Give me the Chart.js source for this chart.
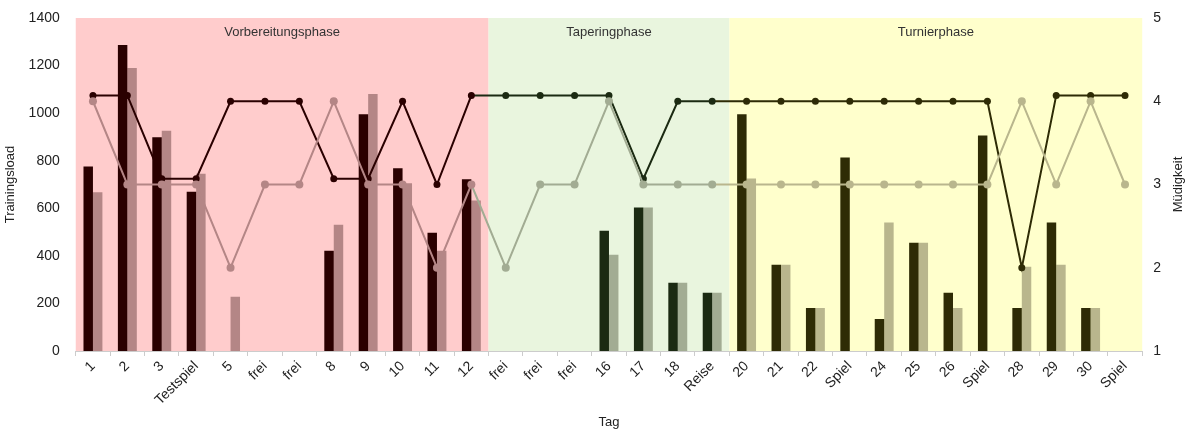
<!DOCTYPE html>
<html>
<head>
<meta charset="utf-8">
<script src="https://cdn.jsdelivr.net/npm/chart.js@4/dist/chart.umd.min.js"></script>
<style>
  body { margin: 0; background: #fff; }
  #wrap { width: 1189px; height: 434px; }
</style>
</head>
<body>
<div id="wrap"><canvas id="chart" width="1189" height="434"></canvas></div>
<script>
const categories = ['1', '2', '3', 'Testspiel', '5', 'frei', 'frei', '8', '9', '10', '11', '12',
  'frei', 'frei', 'frei', '16', '17', '18', 'Reise',
  '20', '21', '22', 'Spiel', '24', '25', '26', 'Spiel', '28', '29', '30', 'Spiel'];

const loadA = [776, 1286, 899, 670, 0, 0, 0, 422, 995, 768, 497, 722,
  0, 0, 0, 506, 603, 287, 245,
  995, 363, 181, 814, 135, 455, 245, 906, 181, 540, 181, 0];
const loadB = [667, 1190, 926, 745, 228, 0, 0, 531, 1081, 705, 422, 633,
  0, 0, 0, 405, 603, 287, 245,
  725, 363, 181, 0, 540, 455, 181, 0, 354, 363, 181, 0];

const fatigueA = [4.07, 4.07, 3.07, 3.07, 4, 4, 4, 3.07, 3.07, 4, 3, 4.07,
  4.07, 4.07, 4.07, 4.07, 3.07, 4, 4,
  4, 4, 4, 4, 4, 4, 4, 4, 2, 4.07, 4.07, 4.07];
const fatigueB = [4, 3, 3, 3, 2, 3, 3, 4, 3, 3, 2, 3,
  2, 3, 3, 4, 3, 3, 3,
  3, 3, 3, 3, 3, 3, 3, 3, 4, 3, 4, 3];

const phaseNames = ['Vorbereitungsphase', 'Taperingphase', 'Turnierphase'];
const phaseStarts = [0, 12, 19];

// colours per phase
const phaseBg = ['#ffcccc', '#e9f5de', '#ffffcc'];
const phaseDark = ['#2a0000', '#1b2a12', '#2e2b05'];
const phaseLight = ['#b48686', '#a2ac93', '#b9b68d'];

function phaseOf(i) {
  let p = 0;
  phaseStarts.forEach((s, k) => { if (i >= s) p = k; });
  return p;
}
const darkCols = categories.map((_, i) => phaseDark[phaseOf(i)]);
const lightCols = categories.map((_, i) => phaseLight[phaseOf(i)]);

const FONT = '"Liberation Sans", Arial, sans-serif';

const phasePlugin = {
  id: 'phases',
  beforeDraw(chart) {
    const { ctx, chartArea } = chart;
    const x = chart.scales.x;
    const w = x.width / categories.length;
    ctx.save();
    phaseStarts.forEach((s, k) => {
      const e = k + 1 < phaseStarts.length ? phaseStarts[k + 1] : categories.length;
      const left = x.left + s * w;
      const right = x.left + e * w;
      ctx.fillStyle = phaseBg[k];
      ctx.fillRect(left, chartArea.top, right - left, chartArea.bottom - chartArea.top);
      ctx.fillStyle = '#333';
      ctx.font = '13px ' + FONT;
      ctx.textAlign = 'center';
      ctx.textBaseline = 'middle';
      ctx.fillText(phaseNames[k], (left + right) / 2, chartArea.top + 14);
    });
    ctx.restore();
  },
  afterDraw(chart) {
    // right axis title, reads bottom to top like the left one
    const { ctx, chartArea } = chart;
    ctx.save();
    ctx.translate(chart.width - 11, (chartArea.top + chartArea.bottom) / 2);
    ctx.rotate(-Math.PI / 2);
    ctx.fillStyle = '#222';
    ctx.font = '13px ' + FONT;
    ctx.textAlign = 'center';
    ctx.textBaseline = 'middle';
    ctx.fillText('Müdigkeit', 0, 0);
    ctx.restore();
  }
};

new Chart(document.getElementById('chart'), {
  data: {
    labels: categories,
    datasets: [
      {
        type: 'line', label: 'Müdigkeit B', data: fatigueB, yAxisID: 'y2', order: 0,
        borderWidth: 2, pointRadius: 4, pointBorderWidth: 0,
        pointBackgroundColor: lightCols,
        segment: { borderColor: c => lightCols[c.p1DataIndex] }
      },
      {
        type: 'line', label: 'Müdigkeit A', data: fatigueA, yAxisID: 'y2', order: 1,
        borderWidth: 2, pointRadius: 3.5, pointBorderWidth: 0,
        pointBackgroundColor: darkCols,
        segment: { borderColor: c => darkCols[c.p1DataIndex] }
      },
      {
        type: 'bar', label: 'Load A', data: loadA, yAxisID: 'y', order: 2,
        backgroundColor: darkCols, barPercentage: 1, categoryPercentage: 0.55
      },
      {
        type: 'bar', label: 'Load B', data: loadB, yAxisID: 'y', order: 2,
        backgroundColor: lightCols, barPercentage: 1, categoryPercentage: 0.55
      }
    ]
  },
  options: {
    responsive: false,
    animation: false,
    layout: { padding: { top: 18, left: 1, right: 25, bottom: 0 } },
    plugins: { legend: { display: false }, tooltip: { enabled: false } },
    scales: {
      x: {
        offset: true,
        grid: { display: true, drawOnChartArea: false, offset: true, color: '#cccccc', tickLength: 5 },
        border: { color: '#cccccc' },
        ticks: { minRotation: 45, maxRotation: 45, autoSkip: false, color: '#222', font: { family: FONT, size: 14 }, padding: 2 },
        title: { display: true, text: 'Tag', color: '#222', font: { family: FONT, size: 13 }, padding: { top: 4 } }
      },
      y: {
        position: 'left', min: 0, max: 1400,
        ticks: { stepSize: 200, color: '#222', font: { family: FONT, size: 14 }, padding: 8, callback: v => String(v) },
        grid: { display: false }, border: { display: false },
        title: { display: true, text: 'Trainingsload', color: '#222', font: { family: FONT, size: 13 }, padding: 2 }
      },
      y2: {
        position: 'right', min: 1, max: 5,
        ticks: { stepSize: 1, color: '#222', font: { family: FONT, size: 14 }, padding: 3 },
        grid: { display: false }, border: { display: false }
      }
    }
  },
  plugins: [phasePlugin]
});
</script>
</body>
</html>
